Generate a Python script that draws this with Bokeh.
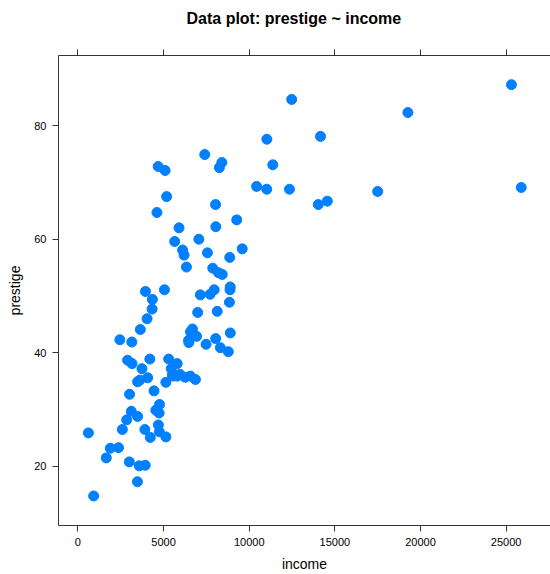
from bokeh.plotting import figure
from bokeh.models import Range1d, LinearAxis, FixedTicker, CustomJSTickFormatter
from bokeh.embed import file_html
from bokeh.resources import INLINE

income = [12351, 25879, 9271, 8865, 8403, 11030, 8258, 14163, 11377, 11023,
          5902, 7059, 8425, 8049, 7405, 6336, 19263, 6112, 9593, 4686,
          12480, 5648, 8034, 25308, 14558, 17498, 4614, 3485, 5092, 10432,
          5180, 6197, 7562, 8206, 4036, 3148, 4348, 2448, 4330, 4761,
          3016, 2901, 5511, 3739, 3161, 4741, 5052, 6259, 4075, 7482,
          8780, 2594, 918, 2370, 8131, 6992, 7956, 8895, 8891, 3116,
          3930, 7869, 611, 3000, 3472, 3582, 3643, 1656, 6860, 4199,
          5134, 5134, 1890, 4443, 3485, 8043, 6686, 6565, 6477, 5811,
          6573, 3942, 5449, 2847, 5795, 7716, 4696, 8316, 7147, 8880,
          5299, 5959, 4549, 6928, 3910, 14032, 8845, 5562, 4224, 4753,
          6462, 3617]

prestige = [68.8, 69.1, 63.4, 56.8, 73.5, 77.6, 72.6, 78.1, 73.1, 68.8,
            62.0, 60.0, 53.8, 62.2, 74.9, 55.1, 82.3, 58.1, 58.3, 72.8,
            84.6, 59.6, 66.1, 87.2, 66.7, 68.4, 64.7, 34.9, 72.1, 69.3,
            67.5, 57.2, 57.6, 54.1, 46.0, 41.9, 49.4, 42.3, 47.7, 30.9,
            32.7, 38.7, 36.1, 37.2, 38.1, 29.4, 51.1, 35.7, 35.6, 41.5,
            40.2, 26.5, 14.8, 23.3, 47.3, 47.1, 51.1, 43.5, 51.6, 29.7,
            20.2, 54.9, 25.9, 20.8, 17.3, 20.1, 44.1, 21.5, 35.3, 38.9,
            25.2, 34.8, 23.2, 33.3, 28.8, 42.5, 44.2, 35.9, 41.8, 35.9,
            43.7, 50.8, 37.2, 28.2, 38.1, 50.3, 27.3, 40.9, 50.2, 51.1,
            38.9, 36.2, 29.9, 42.9, 26.5, 66.1, 48.9, 35.9, 25.1, 26.1,
            42.2, 35.2]

x_ticks = [0, 5000, 10000, 15000, 20000, 25000]
y_ticks = [20, 40, 60, 80]
title_text = "Data plot: prestige ~ income"

FONT = "Liberation Sans"
AX = "#333333"

p = figure(width=550, height=574, output_backend="svg", toolbar_location=None,
           x_range=Range1d(-1133, 27588), y_range=Range1d(9.6, 92.34),
           title=title_text + "\n",
           min_border_left=58, min_border_right=0, min_border_top=55, min_border_bottom=47)
p.outline_line_color = None
p.xgrid.visible = False
p.ygrid.visible = False
p.background_fill_color = "white"
p.border_fill_color = "white"

p.title.text_font = FONT
p.title.text_font_size = "16px"
p.title.text_font_style = "bold"
p.title.text_color = "#000000"
p.title.text_line_height = 1.28
p.title.align = "left"
p.title.offset = 128
p.title.standoff = 2

p.scatter(income, prestige, size=10, fill_color="#0080ff", line_color="#0080ff")

def style(ax, ticks):
    ax.ticker = FixedTicker(ticks=ticks)
    ax.major_tick_out = 6
    ax.major_tick_in = 0
    ax.minor_tick_out = 0
    ax.minor_tick_in = 0
    ax.axis_line_color = AX
    ax.major_tick_line_color = AX
    ax.major_label_text_font = FONT
    ax.major_label_text_font_size = "11px"
    ax.major_label_text_color = "#000000"
    ax.major_label_standoff = 6
    ax.axis_label_text_font = FONT
    ax.axis_label_text_font_size = "14px"
    ax.axis_label_text_font_style = "normal"
    ax.axis_label_text_color = "#000000"

style(p.xaxis[0], x_ticks)
style(p.yaxis[0], y_ticks)
p.xaxis[0].axis_label = "income"
p.yaxis[0].axis_label = "prestige"
p.xaxis[0].axis_label_standoff = 7
p.yaxis[0].axis_label_standoff = 8

# top axis: tick marks only (lattice style)
top = LinearAxis()
style(top, x_ticks)
top.formatter = CustomJSTickFormatter(code="return '';")
top.major_label_standoff = 0
p.add_layout(top, "above")

open("out.html", "w").write(file_html(p, INLINE))
